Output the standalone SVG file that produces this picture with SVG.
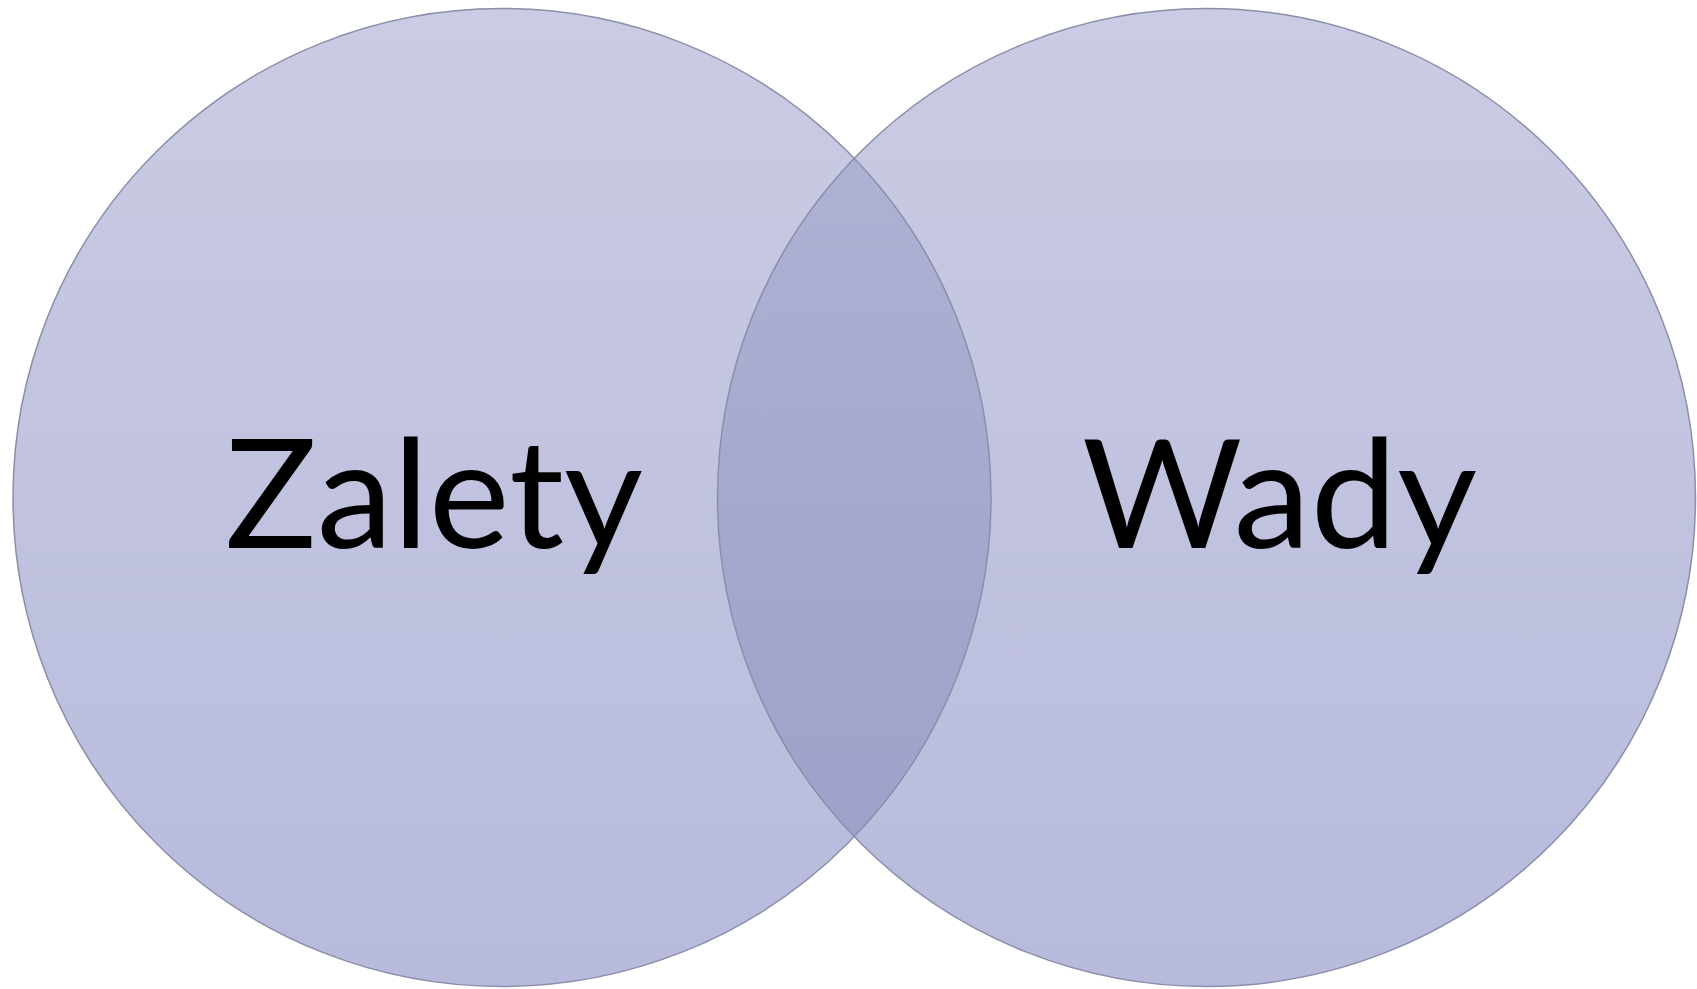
<svg xmlns="http://www.w3.org/2000/svg" width="1697" height="989" viewBox="0 0 1697 989">
<defs>
<linearGradient id="g1" gradientUnits="userSpaceOnUse" x1="0" y1="9" x2="0" y2="986">
<stop offset="0" stop-color="#cacce4"/>
<stop offset="1" stop-color="#b7badb"/>
</linearGradient>
<linearGradient id="g2" gradientUnits="userSpaceOnUse" x1="0" y1="158" x2="0" y2="837">
<stop offset="0" stop-color="#aeb1d2"/>
<stop offset="1" stop-color="#9ea1c9"/>
</linearGradient>
</defs>
<style>
.c{fill:url(#g1);stroke:none}
.o{fill:none;stroke:#8b8ea9;stroke-width:1.5}
.t{font-family:Lato,"Open Sans",sans-serif;font-size:152px;fill:#000}
</style>
<rect width="1697" height="989" fill="#fff"/>
<g id="zalety">
<circle class="c" cx="502" cy="497.5" r="489"/>
</g>
<g id="wady">
<circle class="c" cx="1206.5" cy="497.5" r="489"/>
</g>
<g id="overlap">
<path d="M854.25 158.3 A489 489 0 0 1 854.25 836.7 A489 489 0 0 1 854.25 158.3 Z" fill="url(#g2)"/>
</g>
<g id="outlines">
<circle class="o" cx="502" cy="497.5" r="489"/>
<circle class="o" cx="1206.5" cy="497.5" r="489"/>
</g>
<g id="labels">
<text class="t" x="225" y="548" textLength="418" lengthAdjust="spacingAndGlyphs">Zalety</text>
<text class="t" x="1082" y="548" textLength="395" lengthAdjust="spacingAndGlyphs">Wady</text>
</g>
</svg>
